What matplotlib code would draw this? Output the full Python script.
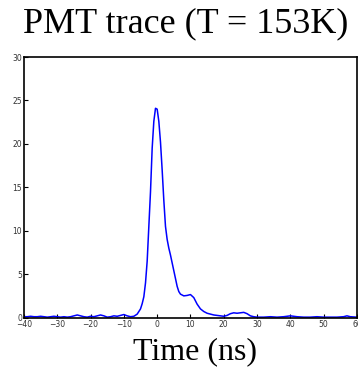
import numpy as np
import matplotlib.pyplot as plt

# PMT trace (time in ns, amplitude in arbitrary units)
time_ns = [-40, -39, -38, -37, -36, -35, -34, -33, -32, -31, -30, -29, -28, -27,
           -26, -25, -24, -23, -22, -21, -20, -19, -18, -17, -16, -15, -14, -13,
           -12, -11, -10, -9, -8, -7, -6, -5, -4.5, -4, -3.5, -3, -2.5, -2, -1.5,
           -1, -0.5, 0, 0.5, 1, 1.5, 2, 2.5, 3, 3.5, 4, 4.5, 5, 5.5, 6, 6.5, 7,
           8, 9, 10, 11, 12, 13, 14, 15, 16, 17, 18, 19, 20, 21, 22, 23, 24, 25,
           26, 27, 28, 29, 30, 32, 34, 36, 38, 40, 42, 44, 46, 48, 50, 52, 54,
           56, 57, 58, 60]
amplitude = [0.1, 0.1, 0.15, 0.1, 0.1, 0.15, 0.1, 0.05, 0.1, 0.15, 0.1, 0.05,
             0.1, 0.05, 0.1, 0.2, 0.3, 0.2, 0.1, 0.05, 0.15, 0.1, 0.2, 0.3,
             0.2, 0.05, 0.1, 0.2, 0.15, 0.25, 0.35, 0.2, 0.1, 0.15, 0.4, 1.0,
             1.6, 2.4, 4.0, 6.5, 10.5, 14.5, 19.5, 22.6, 24.1, 24.0, 22.6, 20.2,
             17.0, 13.5, 10.5, 9.0, 8.0, 7.2, 6.3, 5.4, 4.5, 3.6, 3.0, 2.7,
             2.5, 2.55, 2.65, 2.3, 1.55, 1.0, 0.7, 0.5, 0.4, 0.3, 0.25, 0.2,
             0.15, 0.25, 0.45, 0.55, 0.5, 0.55, 0.6, 0.45, 0.2, 0.1, 0.05,
             0.05, 0.1, 0.05, 0.1, 0.2, 0.1, 0.05, 0.05, 0.1, 0.05, 0.05, 0.05,
             0.1, 0.2, 0.1, 0.05]

x_ticks = list(range(-40, 61, 10))
y_ticks = list(range(0, 31, 5))

fig = plt.figure(figsize=(3.58, 3.68), dpi=100)
ax = fig.add_axes([0.067, 0.137, 0.93, 0.708])

ax.plot(time_ns, amplitude, color='#0000ff', linewidth=1.1)

ax.set_xlim(-40, 60)
ax.set_ylim(0, 30)
ax.set_xticks(x_ticks)
ax.set_yticks(y_ticks)
ax.tick_params(direction='in', length=3, width=0.8, labelsize=5.5,
               labelcolor='#333333', pad=1.5)
for s in ax.spines.values():
    s.set_linewidth(1.2)
ax.set_xticklabels([str(t).replace('-', '\u2212') for t in x_ticks],
                   family='DejaVu Sans')
ax.set_yticklabels([str(t) for t in y_ticks], family='DejaVu Sans')

fig.text(0.518, 0.913, 'PMT trace (T = 153K)', ha='center', va='baseline',
         family='Liberation Serif', fontsize=26)
ax.set_xlabel('Time (ns)', family='Liberation Serif', fontsize=23)
ax.xaxis.label.set_va('baseline')
ax.xaxis.set_label_coords(0.513, -0.1615)

fig.savefig('out.png', dpi=100)
